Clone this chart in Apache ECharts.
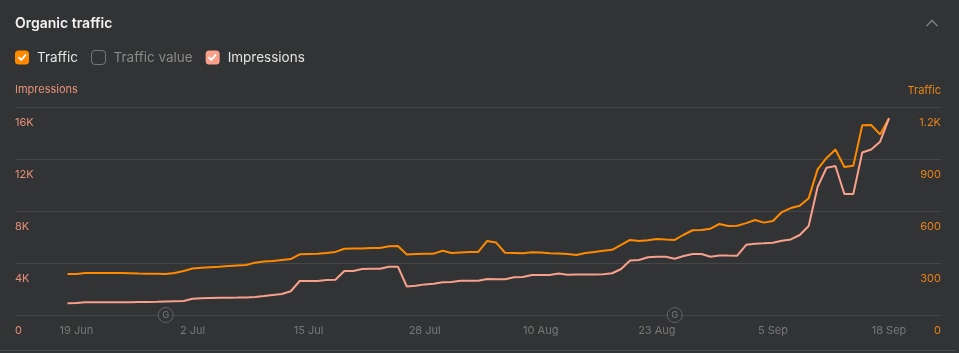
<!DOCTYPE html>
<html>
<head>
<meta charset="utf-8">
<style>html,body{margin:0;padding:0;background:#323334}#c{width:959px;height:353px}</style>
<script src="https://cdn.jsdelivr.net/npm/echarts@6/dist/echarts.min.js"></script>
</head>
<body>
<div id="c"></div>
<script>
// Daily series, 18 Jun to 18 Sep
const traffic = [237,237,242,242,242,242,242,241,239,238,238,237,242,254,268,272,276,278,282,286,289,302,308,311,317,323,350,352,353,358,364,382,383,384,386,387,396,398,349,352,353,354,371,358,361,364,364,427,418,359,358,356,362,361,356,355,352,346,358,364,370,376,404,433,427,431,438,435,433,463,489,490,498,525,514,515,530,548,533,542,594,617,630,673,840,906,955,854,861,1094,1096,1042,1135];
const impressions = [900,920,980,985,985,985,985,990,1000,1000,1015,1045,1060,1075,1245,1290,1310,1325,1330,1340,1355,1385,1460,1540,1615,1825,2615,2615,2615,2690,2715,3385,3385,3540,3560,3560,3710,3715,2190,2255,2355,2410,2515,2540,2630,2640,2640,2770,2755,2745,2910,2925,3075,3075,3075,3190,3100,3110,3115,3115,3140,3210,3540,4190,4230,4440,4475,4485,4330,4540,4690,4690,4485,4585,4570,4560,5400,5475,5515,5560,5710,5815,6155,6845,9845,11330,11460,9310,9310,12500,12730,13330,15130];
const tickDays = [1,14,27,40,53,66,79,92];
const tickLabels = ['19 Jun','2 Jul','15 Jul','28 Jul','10 Aug','23 Aug','5 Sep','18 Sep'];
const updateDays = [11,68];
const legendNames = ['Traffic','Traffic value','Impressions'];

const BG='#323334', ORANGE='#ff8a00', SALMON='#f9a08c';
const toXY = a => a.map((v,i)=>[i,v]);
const chart = echarts.init(document.getElementById('c'),null,{renderer:'canvas'});
const font='Inter';
const check = (x)=>({type:'polyline',silent:true,z:100,shape:{points:[[x+3.5,57.2],[x+6.2,59.9],[x+11,54.7]]},style:{stroke:'#fff',lineWidth:1.8,fill:null}});
chart.setOption({
  animation:false,
  backgroundColor:BG,
  textStyle:{fontFamily:font},
  title:{text:'Organic traffic',left:10,top:12,textStyle:{color:'#f2f2f2',fontSize:14,fontWeight:600,fontFamily:font}},
  legend:{
    left:10,top:45,itemWidth:14,itemHeight:14,itemGap:13,selectedMode:false,
    textStyle:{fontFamily:font,fontSize:13.5,color:'#e4e4e4',padding:[0,0,0,3]},
    data:[
      {name:legendNames[0],icon:'roundRect',itemStyle:{color:ORANGE}},
      {name:legendNames[1],icon:'roundRect',itemStyle:{color:'transparent',borderColor:'#777',borderWidth:1},textStyle:{color:'#8a8a8a'}},
      {name:legendNames[2],icon:'roundRect',itemStyle:{color:SALMON}}
    ]
  },
  grid:{left:15,right:18,top:107,bottom:38,containLabel:false},
  xAxis:{
    type:'value',min:-5.88,max:97.82,
    axisLine:{show:false},axisTick:{show:false},splitLine:{show:false},
    axisLabel:{customValues:tickDays,color:'#787878',fontSize:11,fontFamily:font,margin:10,hideOverlap:false,
      formatter:v=>tickLabels[tickDays.indexOf(v)]||''}
  },
  yAxis:[
    {type:'value',position:'left',min:0,max:16000,interval:4000,
     axisLine:{show:false},axisTick:{show:false},
     splitLine:{show:true,lineStyle:{color:'#454647',width:1}},
     axisLabel:{inside:true,margin:0,align:'left',verticalAlign:'top',padding:[10,0,0,0],color:'#e8917a',fontSize:11,fontFamily:font,
       formatter:v=>v===0?'0':(v/1000)+'K'}},
    {type:'value',position:'right',min:0,max:1200,interval:300,name:'Traffic',nameLocation:'end',nameGap:11,nameMoveOverlap:false,
     nameTextStyle:{color:'#e8841a',fontSize:11,fontFamily:font,align:'right'},
     axisLine:{show:false},axisTick:{show:false},splitLine:{show:false},
     axisLabel:{inside:true,margin:0,align:'right',verticalAlign:'top',padding:[10,0,0,0],color:'#e8841a',fontSize:11,fontFamily:font,
       formatter:v=>v>=1000?(v/1000)+'K':String(v)}}
  ],
  series:[
    {name:legendNames[0],type:'line',yAxisIndex:1,data:toXY(traffic),showSymbol:false,symbol:'none',lineStyle:{color:ORANGE,width:2},itemStyle:{color:ORANGE},z:3},
    {name:legendNames[1],type:'line',yAxisIndex:1,data:[],showSymbol:false,itemStyle:{color:'#777'}},
    {name:legendNames[2],type:'line',yAxisIndex:0,data:toXY(impressions),showSymbol:false,symbol:'none',lineStyle:{color:SALMON,width:2},itemStyle:{color:SALMON},z:4},
    {name:'Google updates',type:'scatter',yAxisIndex:0,clip:false,silent:true,z:5,data:updateDays.map(d=>[d,0]),symbol:'circle',symbolSize:15,
     itemStyle:{color:BG,borderColor:'#6e6e6e',borderWidth:1},
     label:{show:true,position:'inside',formatter:'G',color:'#808080',fontSize:9.5,fontWeight:500,fontFamily:font}}
  ],
  graphic:[
    check(15),check(205),
    {type:'text',silent:true,left:15,top:84.5,style:{text:'Impressions',fill:'#e8917a',font:'11px Inter'}},
    {type:'polyline',silent:true,shape:{points:[[926.5,26],[932,20.5],[937.5,26]]},style:{stroke:'#7c7c7c',lineWidth:1.6,fill:null}},
    {type:'line',silent:true,shape:{x1:0,y1:350.5,x2:956,y2:350.5},style:{stroke:'#4a4b4c',lineWidth:1}}
  ]
});
</script>
</body>
</html>
